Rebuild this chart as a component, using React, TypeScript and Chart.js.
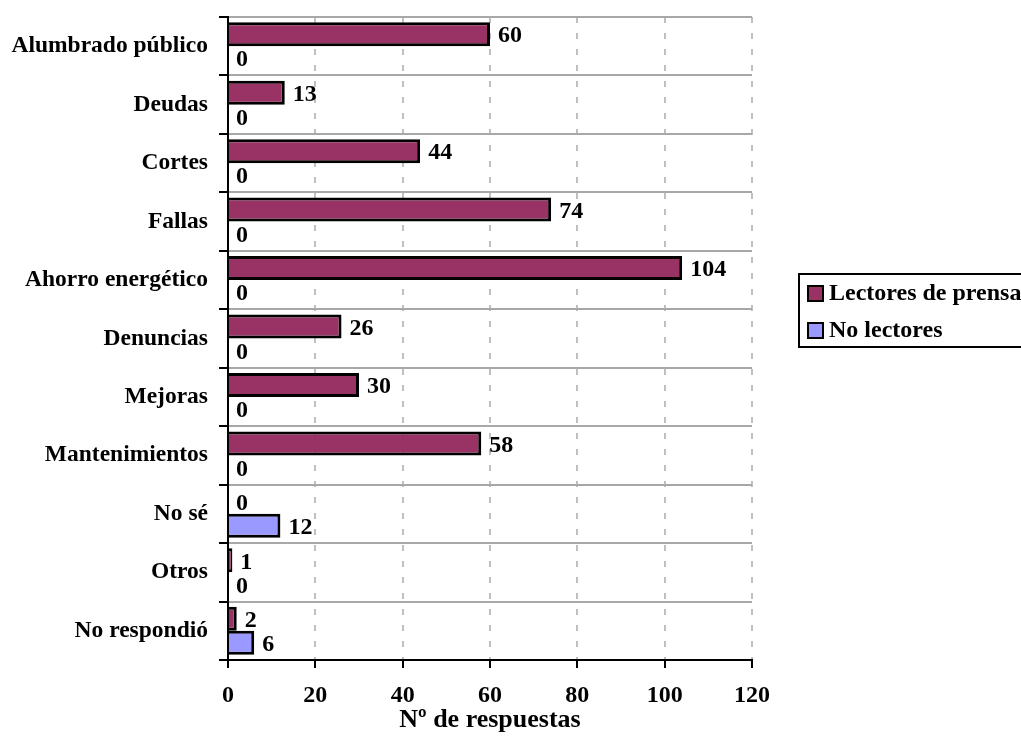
import React, { useEffect, useRef } from "react";
import { Chart, registerables } from "chart.js";

Chart.register(...registerables);

const categories = [
  "Alumbrado público",
  "Deudas",
  "Cortes",
  "Fallas",
  "Ahorro energético",
  "Denuncias",
  "Mejoras",
  "Mantenimientos",
  "No sé",
  "Otros",
  "No respondió",
];
const lectores = [60, 13, 44, 74, 104, 26, 30, 58, 0, 1, 2];
const noLectores = [0, 0, 0, 0, 0, 0, 0, 0, 12, 0, 6];
const seriesNames = ["Lectores de prensa", "No lectores"];
const seriesColors = ["#993366", "#9999FF"];
const xTitle = "Nº de respuestas";

const FONT = "'Liberation Serif', 'Times New Roman', serif";

const valueLabels = {
  id: "valueLabels",
  afterDatasetsDraw(chart: any) {
    const ctx = chart.ctx;
    ctx.save();
    ctx.font = `bold 24px ${FONT}`;
    ctx.fillStyle = "#000";
    ctx.textAlign = "left";
    ctx.textBaseline = "middle";
    chart.data.datasets.forEach((ds: any, di: number) => {
      const meta = chart.getDatasetMeta(di);
      meta.data.forEach((el: any, i: number) => {
        ctx.fillText(String(ds.data[i]), el.x + 8, el.y + 2);
      });
    });
    // axis lines on top
    const a = chart.chartArea;
    ctx.strokeStyle = "#000";
    ctx.lineWidth = 2;
    ctx.beginPath();
    ctx.moveTo(a.left, a.top);
    ctx.lineTo(a.left, a.bottom + 1);
    ctx.moveTo(a.left - 1, a.bottom);
    ctx.lineTo(a.right + 1, a.bottom);
    ctx.stroke();
    ctx.restore();
  },
  afterDraw(chart: any) {
    const ctx = chart.ctx;
    ctx.save();
    ctx.strokeStyle = "#000";
    ctx.lineWidth = 2;
    ctx.strokeRect(799, 274, 260, 73);
    ctx.font = `bold 24px ${FONT}`;
    ctx.textAlign = "left";
    ctx.textBaseline = "middle";
    const rows = [293, 330];
    seriesNames.forEach((name, i) => {
      const cy = rows[i];
      ctx.fillStyle = seriesColors[i];
      ctx.fillRect(808, cy - 7, 15, 15);
      ctx.strokeRect(808, cy - 7, 15, 15);
      ctx.fillStyle = "#000";
      ctx.fillText(name, 829, cy + 1);
    });
    ctx.restore();
  },
};

export default function App() {
  const ref = useRef<HTMLCanvasElement | null>(null);
  useEffect(() => {
    if (!ref.current) return;
    const chart = new Chart(ref.current, {
      type: "bar",
      data: {
        labels: categories,
        datasets: [
          {
            label: seriesNames[0],
            data: lectores,
            backgroundColor: seriesColors[0],
            borderColor: "#000",
            borderWidth: 3,
            categoryPercentage: 0.82,
            barPercentage: 1,
          },
          {
            label: seriesNames[1],
            data: noLectores,
            backgroundColor: seriesColors[1],
            borderColor: "#000",
            borderWidth: 3,
            categoryPercentage: 0.82,
            barPercentage: 1,
          },
        ],
      },
      options: {
        indexAxis: "y",
        animation: false,
        responsive: false,
        devicePixelRatio: 1,
        layout: { padding: { left: 0, top: 17, right: 269, bottom: 0 } },
        plugins: {
          legend: { display: false },
          tooltip: { enabled: false },
        },
        scales: {
          x: {
            min: 0,
            max: 120,
            ticks: {
              stepSize: 20,
              padding: 13,
              color: "#000",
              font: { family: FONT, size: 24, weight: "bold" },
            },
            grid: {
              color: (c: any) => (c.index === 0 ? "rgba(0,0,0,0)" : "#c0c0c0"),
              lineWidth: 2,
              tickColor: "#000",
              tickLength: 8,
              tickWidth: 2,
              tickBorderDash: [],
            },
            border: { display: true, color: "#000", width: 2, dash: [6, 10] },
            title: {
              display: true,
              text: xTitle,
              color: "#000",
              font: { family: FONT, size: 26, weight: "bold" },
              padding: { top: 0, bottom: 0 },
            },
            afterFit: (s: any) => {
              s.height = 76;
              s.paddingLeft = 0;
              s.paddingRight = 0;
              s.paddingTop = 0;
              s.paddingBottom = 0;
            },
          },
          y: {
            ticks: {
              padding: 11,
              color: "#000",
              font: { family: FONT, size: 23.5, weight: "bold" },
            },
            grid: {
              color: "#a8a8a8",
              lineWidth: 2,
              tickColor: "#000",
              tickLength: 9,
              tickWidth: 2,
              offset: true,
            },
            border: { display: true, color: "#000", width: 2 },
            afterFit: (s: any) => {
              s.width = 228;
              s.paddingLeft = 0;
              s.paddingRight = 0;
              s.paddingTop = 0;
              s.paddingBottom = 0;
            },
          },
        },
      },
      plugins: [valueLabels],
    } as any);
    return () => chart.destroy();
  }, []);
  return (
    <div style={{ position: "absolute", left: 0, top: 0, width: 1021, height: 736 }}>
      <canvas ref={ref} width={1021} height={736} style={{ width: 1021, height: 736 }} />
    </div>
  );
}
